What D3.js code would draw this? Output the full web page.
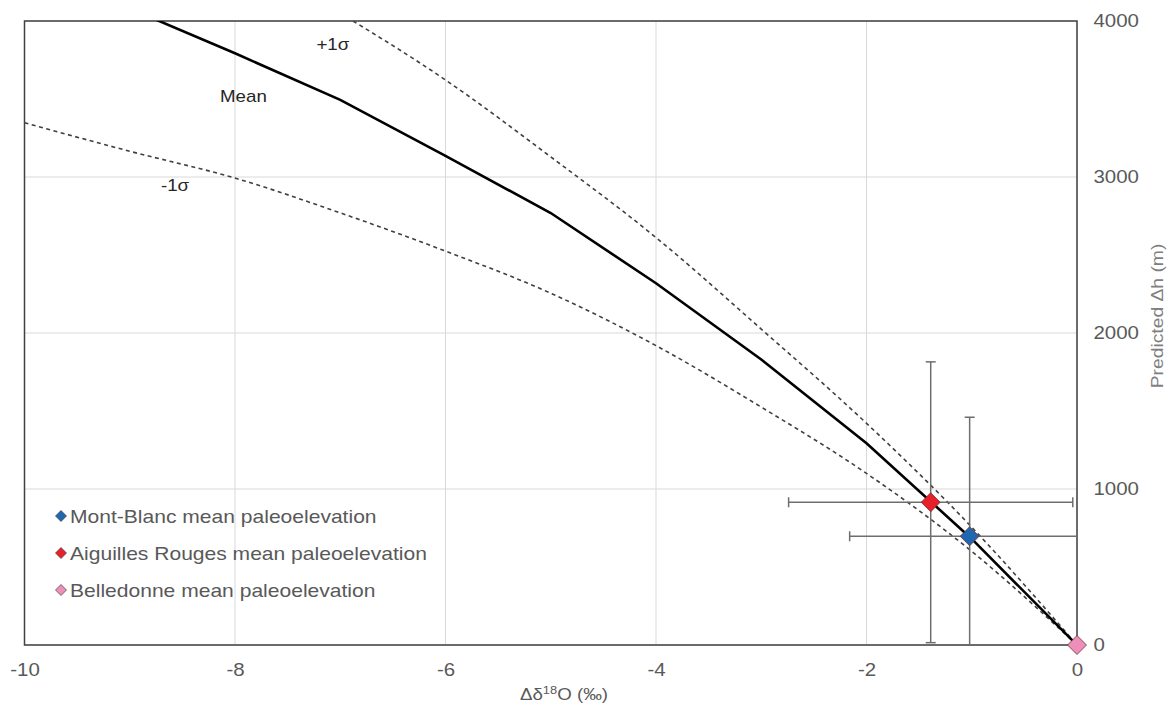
<!DOCTYPE html>
<html><head><meta charset="utf-8">
<script src="https://cdn.jsdelivr.net/npm/d3@7"></script>
<style>body{margin:0;background:#fff;} text{font-family:"Liberation Sans",Arial,sans-serif;}</style>
</head><body><svg id="c" width="1173" height="705"></svg>
<script>
// Data
const meanX = [-9, -8, -7, -6, -5, -4, -3, -2, -1, 0];
const meanH = [4080, 3793, 3494, 3135, 2769, 2319, 1830, 1293, 680, 0];
const plusX = [-7, -6, -5, -4, -3, -2, -1, 0];
const plusH = [4050, 3622, 3129, 2612, 2025, 1421, 755, 0];
const minusX = [-10, -9, -8, -7, -6, -5, -4, -3, -2, -1, 0];
const minusH = [3348, 3165, 2993, 2770, 2525, 2255, 1919, 1525, 1100, 600, 0];
const sites = ["Mont-Blanc mean paleoelevation", "Aiguilles Rouges mean paleoelevation", "Belledonne mean paleoelevation"];
const siteX = [-1.02, -1.39, 0];
const siteH = [697, 915, 0];
const siteXErr = [1.14, 1.35, 0];
const siteHErr = [763, 900, 0];
const siteColors = ["#1f67b1", "#e8202a", "#ee8fbb"];
const xTicks = [-10, -8, -6, -4, -2, 0];
const yTicks = [0, 1000, 2000, 3000, 4000];
const curveLabels = ["+1σ", "Mean", "-1σ"];
const curveLabelPos = [[-7.07, 3814], [-7.92, 3481], [-8.57, 2910]];

const SX = 1.17; // horizontal stretch of text in reference
const svg = d3.select("#c");
const L = 24.5, R = 1077, T = 21, B = 645;
const x = d3.scaleLinear().domain([-10, 0]).range([L, R]);
const y = d3.scaleLinear().domain([0, 4000]).range([B, T]);
const fmt = d => String(d);

svg.append("defs").append("clipPath").attr("id", "clip")
  .append("rect").attr("x", L).attr("y", T).attr("width", R - L).attr("height", B - T);

// grid
const g = svg.append("g");
g.selectAll(".gx").data(xTicks).join("line")
  .attr("x1", d => x(d)).attr("x2", d => x(d)).attr("y1", T).attr("y2", B)
  .attr("stroke", "#d9d9d9").attr("stroke-width", 1);
g.selectAll(".gy").data(yTicks).join("line")
  .attr("y1", d => y(d)).attr("y2", d => y(d)).attr("x1", L).attr("x2", R)
  .attr("stroke", "#d9d9d9").attr("stroke-width", 1);

// border
svg.append("rect").attr("x", L).attr("y", T).attr("width", R - L).attr("height", B - T)
  .attr("fill", "none").attr("stroke", "#404040").attr("stroke-width", 1.5);

// axes tick labels via d3 axes
const xAxis = svg.append("g").attr("transform", `translate(0,${B})`)
  .call(d3.axisBottom(x).tickValues(xTicks).tickSize(0).tickPadding(19).tickFormat(fmt));
xAxis.select(".domain").remove();
xAxis.selectAll("text").attr("font-size", 17.5).attr("fill", "#595959")
  .attr("font-family", "Liberation Sans, Arial, sans-serif")
  .attr("transform", `scale(${SX},1)`);

const yAxis = svg.append("g").attr("transform", `translate(${R},0)`)
  .call(d3.axisRight(y).tickValues(yTicks).tickSize(0).tickPadding(14).tickFormat(fmt));
yAxis.select(".domain").remove();
yAxis.selectAll("text").attr("font-size", 17.5).attr("fill", "#595959")
  .attr("font-family", "Liberation Sans, Arial, sans-serif")
  .attr("transform", `scale(${SX},1)`);

// axis titles
const xt = svg.append("text").attr("transform", `translate(564,700) scale(${SX},1)`).attr("text-anchor", "middle")
  .attr("font-size", 16).attr("fill", "#595959");
xt.append("tspan").text("Δδ");
xt.append("tspan").attr("font-size", 11).attr("dy", -6).text("18");
xt.append("tspan").attr("dy", 6).text("O (‰)");
svg.append("text").attr("transform", `translate(1163,316) rotate(-90) scale(${SX},1)`).attr("text-anchor", "middle")
  .attr("font-size", 16.5).attr("fill", "#7f7f7f").text("Predicted Δh (m)");

// curves
const line = d3.line().x(d => x(d[0])).y(d => y(d[1])).curve(d3.curveMonotoneX);
const plot = svg.append("g").attr("clip-path", "url(#clip)");
plot.append("path").datum(minusX.map((v, i) => [v, minusH[i]])).attr("d", line)
  .attr("fill", "none").attr("stroke", "#404040").attr("stroke-width", 1.6).attr("stroke-dasharray", "4,3.5");
plot.append("path").datum(plusX.map((v, i) => [v, plusH[i]])).attr("d", line)
  .attr("fill", "none").attr("stroke", "#404040").attr("stroke-width", 1.6).attr("stroke-dasharray", "4,3.5");
plot.append("path").datum(meanX.map((v, i) => [v, meanH[i]])).attr("d", d3.line().x(d => x(d[0])).y(d => y(d[1])))
  .attr("fill", "none").attr("stroke", "#000").attr("stroke-width", 2.6);

// error bars
const eb = plot.append("g").attr("stroke", "#6e6e6e").attr("stroke-width", 1.5);
const cap = 5;
sites.forEach((s, i) => {
  if (siteXErr[i] === 0 && siteHErr[i] === 0) return;
  const cx = x(siteX[i]), cy = y(siteH[i]);
  const x0 = x(siteX[i] - siteXErr[i]), x1 = x(siteX[i] + siteXErr[i]);
  const y0 = y(siteH[i] - siteHErr[i]), y1 = y(siteH[i] + siteHErr[i]);
  eb.append("line").attr("x1", x0).attr("x2", x1).attr("y1", cy).attr("y2", cy);
  eb.append("line").attr("x1", x0).attr("x2", x0).attr("y1", cy - cap).attr("y2", cy + cap);
  eb.append("line").attr("x1", x1).attr("x2", x1).attr("y1", cy - cap).attr("y2", cy + cap);
  eb.append("line").attr("x1", cx).attr("x2", cx).attr("y1", y0).attr("y2", y1);
  eb.append("line").attr("x1", cx - cap).attr("x2", cx + cap).attr("y1", y0).attr("y2", y0);
  eb.append("line").attr("x1", cx - cap).attr("x2", cx + cap).attr("y1", y1).attr("y2", y1);
});

// markers
function diamondPath(r) { return `M0,${-r}L${r},0L0,${r}L${-r},0Z`; }
svg.append("g").selectAll("path").data(sites).join("path")
  .attr("d", diamondPath(9.5))
  .attr("transform", (d, i) => `translate(${x(siteX[i])},${y(siteH[i])})`)
  .attr("fill", (d, i) => siteColors[i]).attr("stroke", "#6b3030").attr("stroke-width", 0.8);

// curve labels
svg.selectAll(".cl").data(curveLabels).join("text")
  .attr("transform", (d, i) => `translate(${x(curveLabelPos[i][0])},${y(curveLabelPos[i][1])}) scale(${SX},1)`)
  .attr("text-anchor", "middle").attr("font-size", 16).attr("fill", "#262626").text(d => d);

// legend
const lg = svg.append("g");
const legY = [516, 553, 590];
sites.forEach((s, i) => {
  lg.append("path").attr("d", diamondPath(5.5)).attr("transform", `translate(61,${legY[i]})`)
    .attr("fill", siteColors[i]).attr("stroke", "#404040").attr("stroke-width", 0.7);
  lg.append("text").attr("transform", `translate(70,${legY[i] + 6.5}) scale(${SX},1)`).attr("font-size", 18)
    .attr("fill", "#595959").text(s);
});
</script></body></html>
